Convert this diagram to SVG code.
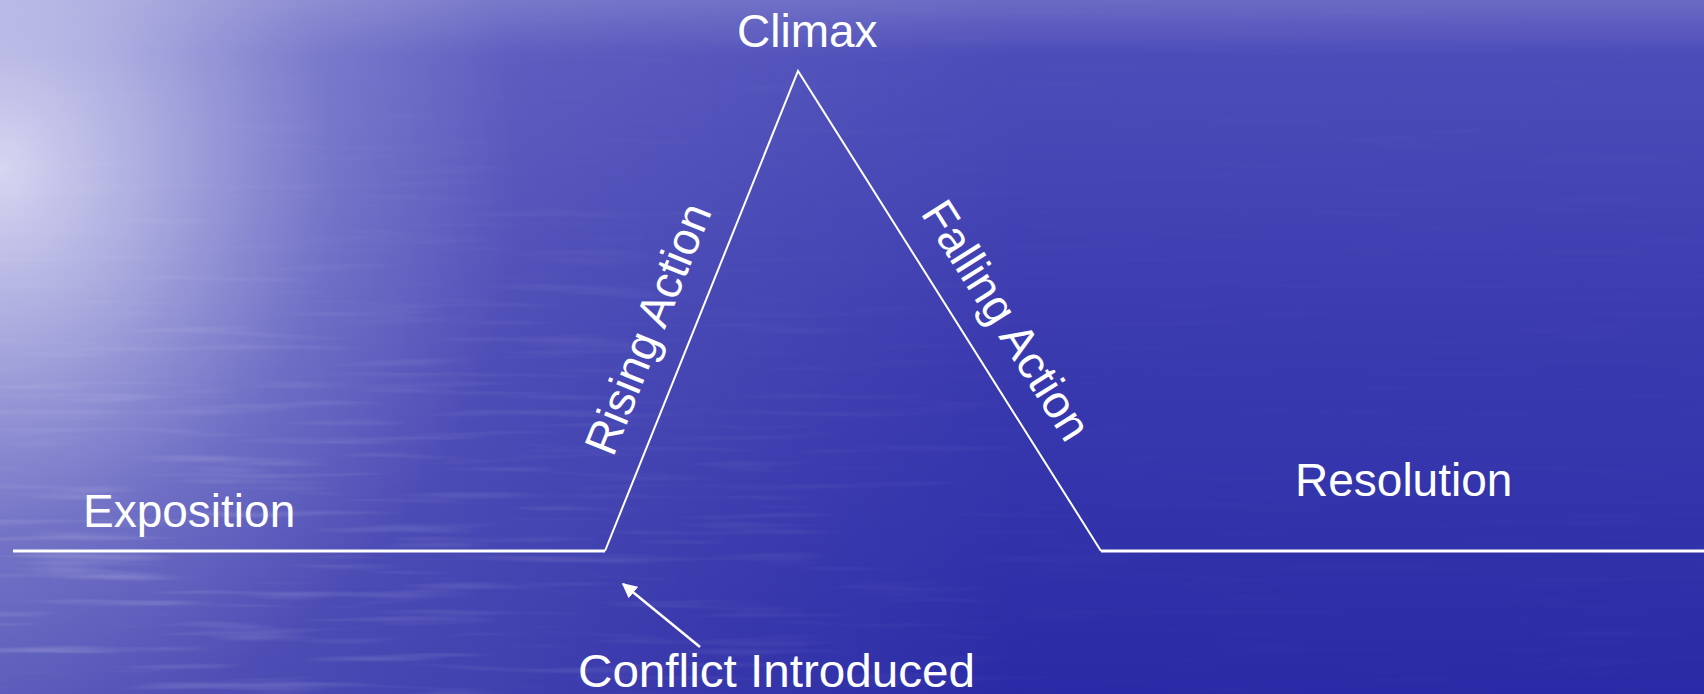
<svg xmlns="http://www.w3.org/2000/svg" width="1704" height="694" viewBox="0 0 1704 694">
  <defs>
    <linearGradient id="bgV" x1="0" y1="0" x2="0" y2="1">
      <stop offset="0" stop-color="#6a6ac4"/>
      <stop offset="0.08" stop-color="#4c4cb9"/>
      <stop offset="0.5" stop-color="#3a3aaf"/>
      <stop offset="1" stop-color="#2a2aa6"/>
    </linearGradient>
    <linearGradient id="bgH" x1="0" y1="0" x2="1" y2="0">
      <stop offset="0" stop-color="#ffffff" stop-opacity="0.22"/>
      <stop offset="0.35" stop-color="#ffffff" stop-opacity="0.08"/>
      <stop offset="0.6" stop-color="#ffffff" stop-opacity="0"/>
    </linearGradient>
    <radialGradient id="glow" cx="0" cy="170" r="1" gradientUnits="userSpaceOnUse" gradientTransform="translate(0 170) scale(520 560) translate(0 -170)">
      <stop offset="0" stop-color="#f0f0fc" stop-opacity="0.8"/>
      <stop offset="0.3" stop-color="#e0e0f6" stop-opacity="0.55"/>
      <stop offset="0.65" stop-color="#c8c8ee" stop-opacity="0.2"/>
      <stop offset="1" stop-color="#c8c8ee" stop-opacity="0"/>
    </radialGradient>
    <filter id="ripples" x="0" y="0" width="100%" height="100%">
      <feTurbulence type="fractalNoise" baseFrequency="0.006 0.11" numOctaves="2" seed="7" result="n"/>
      <feColorMatrix in="n" type="matrix" values="0 0 0 0 1  0 0 0 0 1  0 0 0 0 1  0 0 0 1.6 -0.85"/>
    </filter>
    <radialGradient id="rippleFade" cx="0" cy="600" r="1" gradientUnits="userSpaceOnUse" gradientTransform="translate(0 600) scale(1100 520) translate(0 -600)">
      <stop offset="0" stop-color="#fff" stop-opacity="0.9"/>
      <stop offset="0.6" stop-color="#fff" stop-opacity="0.4"/>
      <stop offset="1" stop-color="#fff" stop-opacity="0.08"/>
    </radialGradient>
    <mask id="rippleMask">
      <rect width="1704" height="694" fill="url(#rippleFade)"/>
    </mask>
    <marker id="arrowHead" viewBox="0 0 10 10" refX="9" refY="5" markerWidth="6" markerHeight="6" markerUnits="strokeWidth" orient="auto">
      <path d="M0,0 L10,5 L0,10 z" fill="#ffffff"/>
    </marker>
    <style>
      .lbl { font-family: "Liberation Sans", Arial, sans-serif; font-size: 46px; fill: #ffffff; }
      .base { fill: none; stroke: #ffffff; stroke-width: 3; }
      .slope { fill: none; stroke: #ffffff; stroke-width: 2; stroke-linejoin: miter; }
      .arrow { stroke: #ffffff; stroke-width: 2.5; fill: none; }
    </style>
  </defs>

  <g id="background">
    <rect width="1704" height="694" fill="url(#bgV)"/>
    <rect width="1704" height="694" fill="url(#bgH)"/>
    <rect width="1704" height="694" filter="url(#ripples)" mask="url(#rippleMask)" opacity="0.4"/>
    <rect width="1704" height="694" fill="url(#glow)"/>
  </g>

  <g id="connectors">
    <line class="base" x1="13" y1="551" x2="605" y2="551"/>
    <polyline class="slope" points="605,551 798,71 1101,551"/>
    <line class="base" x1="1101" y1="551" x2="1704" y2="551"/>
    <line class="arrow" x1="700" y1="647" x2="623" y2="584" marker-end="url(#arrowHead)"/>
  </g>

  <g id="climax"><text class="lbl" x="737" y="47">Climax</text></g>
  <g id="exposition"><text class="lbl" x="83" y="527">Exposition</text></g>
  <g id="resolution"><text class="lbl" x="1295" y="496">Resolution</text></g>
  <g id="rising-action"><text class="lbl" transform="translate(613 458) rotate(-68.1)">Rising Action</text></g>
  <g id="falling-action"><text class="lbl" transform="translate(920 213) rotate(57.7)">Falling Action</text></g>
  <g id="conflict-introduced"><text class="lbl" x="578" y="687" textLength="397" lengthAdjust="spacingAndGlyphs">Conflict Introduced</text></g>
</svg>
